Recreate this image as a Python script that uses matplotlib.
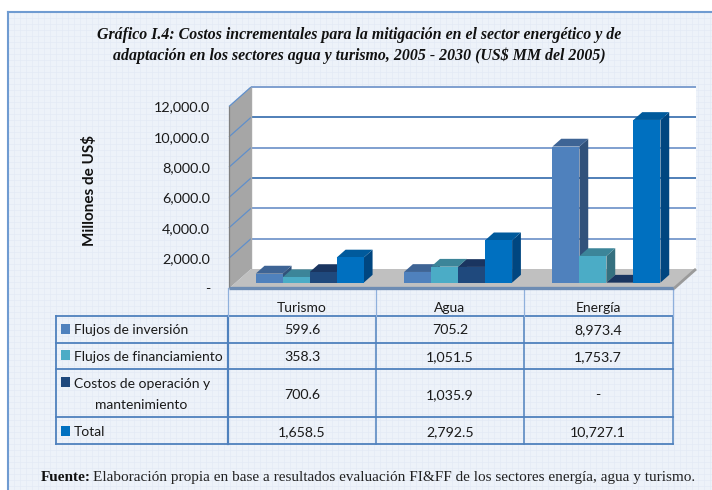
# -*- coding: utf-8 -*-
import matplotlib
matplotlib.use('Agg')
import matplotlib.pyplot as plt
from matplotlib.patches import Polygon, Rectangle
from matplotlib.transforms import IdentityTransform

sectores = ['Turismo', 'Agua', 'Energía']
series = ['Flujos de inversión', 'Flujos de financiamiento', 'Costos de operación y', 'Total']
inversion = [599.6, 705.2, 8973.4]
financiamiento = [358.3, 1051.5, 1753.7]
costos = [700.6, 1035.9, 0.0]
total = [1658.5, 2792.5, 10727.1]
ticks = [0, 2000, 4000, 6000, 8000, 10000, 12000]

valores = [inversion, financiamiento, costos, total]
# frente, arriba, lado
colores = [('#4f81bd', '#3e6495', '#31527b'),
           ('#4bacc6', '#3c8599', '#35707f'),
           ('#1f497d', '#1a3560', '#172f55'),
           ('#0070c0', '#005a9c', '#004680')]

W, H = 712, 490
fig = plt.figure(figsize=(7.12, 4.9), dpi=100)

# fondo, marco, titulo y tabla en pixeles
bg = fig.add_axes([0, 0, 1, 1], zorder=0)
bg.set_xlim(0, W)
bg.set_ylim(H, 0)
bg.axis('off')
bg.add_patch(Rectangle((0, 12), W, H, fc='#edf2f9', ec='none', zorder=0))
for x in range(8, W, 6):
    bg.plot([x, x], [12, H], color='#e3eaf5', lw=0.5, zorder=0.5)
for y in range(12, H, 6):
    bg.plot([8, W], [y, y], color='#e3eaf5', lw=0.5, zorder=0.5)
bg.add_patch(Rectangle((0, 0), W, 12, fc='white', ec='none', zorder=0.6))
bg.add_patch(Rectangle((0, 0), 8, H, fc='white', ec='none', zorder=0.6))
bg.plot([8, W], [12, 12], color='#6f9bd1', lw=1.5, zorder=1)
bg.plot([8, 8], [12, H], color='#6f9bd1', lw=1.5, zorder=1)

serif = 'Liberation Serif'
bg.text(359, 35, 'Gráfico I.4: Costos incrementales para la mitigación en el sector energético y de',
        family=serif, weight='bold', style='italic', size=11.4, ha='center', va='center', color='#111111')
bg.text(359, 56, 'adaptación en los sectores agua y turismo, 2005 - 2030 (US$ MM del 2005)',
        family=serif, weight='bold', style='italic', size=11.4, ha='center', va='center', color='#111111')
bg.text(41, 477, 'Fuente:', family=serif, weight='bold', size=11, va='center', color='#111111')
bg.text(93, 477, 'Elaboración propia en base a resultados evaluación FI&FF de los sectores energía, agua y turismo.',
        family=serif, size=11, va='center', color='#222222')

# tabla
filas = [316, 343, 369, 417, 444]
cols = [228, 376, 524, 673]
azul = '#4f81bd'
for y in filas:
    bg.plot([56, 673], [y, y], color=azul, lw=1.3, zorder=2)
bg.plot([56, 56], [316, 444], color=azul, lw=1.3, zorder=2)
bg.plot([228, 228], [316, 444], color=azul, lw=1.6, zorder=2)
for x in cols[1:]:
    bg.plot([x, x], [316, 444], color=azul, lw=1.1, zorder=2)
for x in cols:
    bg.plot([x, x], [288, 316], color='#8fb0dc', lw=0.9, zorder=2)

sans = 'Lato'
ys_val = [330, 357, 395, 432]
ys_sw = [329, 355, 382, 431]
ys_txt = [330, 357, 384, 432]
for j in range(4):
    bg.add_patch(Rectangle((61, ys_sw[j] - 5), 9, 10, fc=colores[j][0], ec='none', zorder=3))
    bg.text(73.5, ys_txt[j], series[j], family=sans, size=10, va='center', color='#1a1a1a')
    for i in range(3):
        v = valores[j][i]
        etiqueta = '-' if v == 0 else f'{v:,.1f}'
        bg.text(302 + 148 * i, ys_val[j], etiqueta, family=sans, size=10.2, ha='center', va='center', color='#1a1a1a')
bg.text(141, 405, 'mantenimiento', family=sans, size=10, ha='center', va='center', color='#1a1a1a')
for i in range(3):
    bg.text(302 + 148 * i, 308, sectores[i], family=sans, size=10, ha='center', va='center', color='#1a1a1a')

# plano frontal del grafico: x por sector, y en millones
ax = fig.add_axes([229 / W, 1 - 288.5 / H, 445 / W, 182 / H], zorder=1)
ax.set_xlim(0, 3)
ax.set_ylim(0, 12000)
ax.patch.set_visible(False)
for s in ax.spines.values():
    s.set_visible(False)
ax.set_xticks([])
ax.set_yticks(ticks)
ax.set_yticklabels(['-' if t == 0 else f'{t:,.1f}' for t in ticks], family=sans, size=10.4, color='#1a1a1a')
ax.tick_params(axis='y', length=0, pad=13.5)
fig.text(89 / W, 1 - 190 / H, 'Millones de US$', family=sans, weight='bold', size=11,
         rotation=90, ha='center', va='center', color='#111111')


def proy(x, v, prof):
    px, py = ax.transData.transform((x, v))
    return (px + 22 * prof, py + 19.5 * prof)


def cara(puntos, color, z, borde='none', lw=0):
    ax.add_patch(Polygon([proy(*p) for p in puntos], closed=True, fc=color, ec=borde, lw=lw,
                         transform=IdentityTransform(), clip_on=False, zorder=z))


def linea(p1, p2, color, lw, z):
    a, b = proy(*p1), proy(*p2)
    ax.plot([a[0], b[0]], [a[1], b[1]], color=color, lw=lw, transform=IdentityTransform(),
            clip_on=False, zorder=z, solid_capstyle='butt')


# paredes y piso
cara([(0, 0, 1), (3, 0, 1), (3, 12000, 1), (0, 12000, 1)], 'white', 1)
cara([(0, 0, 0), (0, 0, 1), (0, 12000, 1), (0, 12000, 0)], '#a6a6a6', 1)
cara([(0, 0, 0), (3, 0, 0), (3, 0, 1), (0, 0, 1)], '#c0c0c0', 2)
for t in ticks[1:]:
    col = '#4f7fb8' if t in (6000, 10000) else '#7f9fcf'
    linea((0, t, 1), (3, t, 1), col, 1.4, 1.5)
    linea((0, t, 0), (0, t, 1), '#5f8fcb', 0.9, 1.5)
linea((0, 0, 1), (0, 12000, 1), '#a9a9a9', 1.0, 1.6)
linea((0, 0, 0), (0, 12000, 0), '#808080', 0.9, 1.6)
linea((0, 0, 0), (3, 0, 0), '#6d8cb3', 2.4, 2.5)
linea((3, 0, 0), (3, 0, 1), '#9a9a9a', 2.0, 2.5)

# barras con su cara superior y lateral
ancho = 27 / (445 / 3)
p1, p2 = 0.3, 0.7
for i in range(3):
    for j in range(4):
        v = valores[j][i]
        x0 = i + 0.5 + (j - 2) * ancho
        x1 = x0 + ancho
        front, arriba, lado = colores[j]
        z = 3 + i + j * 0.1
        cara([(x1, 0, p1), (x1, 0, p2), (x1, v, p2), (x1, v, p1)], lado, z)
        cara([(x0, v, p1), (x1, v, p1), (x1, v, p2), (x0, v, p2)], arriba, z)
        cara([(x0, 0, p1), (x1, 0, p1), (x1, v, p1), (x0, v, p1)], front, z)

fig.savefig('out.png', dpi=100)
